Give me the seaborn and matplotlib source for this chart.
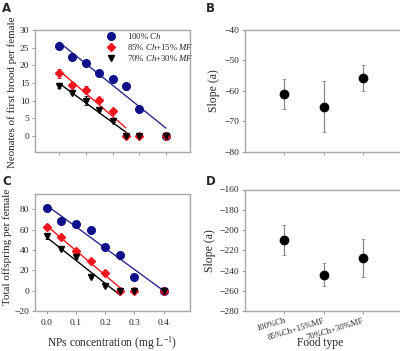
import numpy as np
import pandas as pd
import matplotlib
matplotlib.use("Agg")
import matplotlib.pyplot as plt
import seaborn as sns

# NPs concentration (mg/L)
conc = [0, 0.05, 0.1, 0.15, 0.2, 0.25, 0.3, 0.4]

# A: neonates of first brood per female
ch100_first = [25.5, 22.3, 20.6, 17.8, 16.1, 14.1, 7.7, 0]
ch100_first_err = [0.6, 0.5, 0.4, 0.4, 0.6, 1.0, 0.4, 0]
ch85_first = [17.7, 14.5, 13.1, 10.2, 7.0, 0, 0, 0]
ch85_first_err = [1.2, 0.5, 1.0, 0.5, 0.5, 0, 0, 0]
ch70_first = [14.1, 12.2, 10.0, 7.2, 4.3, 0, 0, 0]
ch70_first_err = [0.5, 0.4, 1.2, 0.3, 0.4, 0, 0, 0]

# C: total offspring per female
ch100_total = [81.7, 68.0, 65.7, 59.8, 42.8, 34.6, 13.4, 0]
ch100_total_err = [1.0, 1.0, 1.0, 1.0, 1.0, 1.0, 1.0, 0]
ch85_total = [62.4, 52.3, 38.9, 29.1, 17.6, 0, 0, 0]
ch85_total_err = [1.5, 1.0, 1.5, 1.0, 1.0, 0, 0, 0]
ch70_total = [53.3, 40.8, 33.0, 13.4, 4.2, 0, 0, 0]
ch70_total_err = [3.0, 1.0, 1.5, 1.0, 1.0, 0, 0, 0]

# points used by each regression line
fit_n = [8, 6, 6]

# B / D: slopes per food type
food = ["100%Ch", "85%Ch+15%MF", "70%Ch+30%MF"]
slope_first = [-61.0, -65.2, -55.7]
slope_first_err = [5.0, 8.3, 4.3]
slope_total = [-210.0, -244.0, -227.5]
slope_total_err = [15.0, 11.5, 19.0]

labels = ["100% $\\mathit{Ch}$", "85% $\\mathit{Ch}$+15% $\\mathit{MF}$",
          "70% $\\mathit{Ch}$+30% $\\mathit{MF}$"]
colors = ["#10108a", "#f0141e", "#000000"]
line_colors = ["#2a2a90", "#f0141e", "#000000"]
markers = ["o", "D", "v"]
msizes = [5.5, 4.5, 5]

sns.set_style("ticks")
plt.rcParams["font.family"] = ["Liberation Serif", "DejaVu Serif"]
plt.rcParams["mathtext.fontset"] = "custom"
plt.rcParams["mathtext.rm"] = "Liberation Serif"
plt.rcParams["mathtext.it"] = "Liberation Serif:italic"

fig = plt.figure(figsize=(4.0, 3.51), dpi=100)
W, H = 400.0, 351.0


def add_ax(l, t, r, b):
    return fig.add_axes([l / W, 1 - b / H, (r - l) / W, (b - t) / H])


axA = add_ax(35, 30, 190, 151.7)
axB = add_ax(245, 30, 402, 151.7)
axC = add_ax(35, 194, 190, 311)
axD = add_ax(245, 189.5, 402, 311)

frame = "#a8a8a8"
for ax in (axA, axB, axC, axD):
    for s in ax.spines.values():
        s.set_color(frame)
        s.set_linewidth(1.0)
    ax.tick_params(axis="both", direction="out", length=2, width=0.6,
                   color="#888888", labelsize=6.8, pad=2)


def series_panel(ax, ys, errs):
    for i in range(3):
        df = pd.DataFrame({"x": conc, "y": ys[i]})
        sub = df.iloc[:fit_n[i]]
        sns.regplot(data=sub, x="x", y="y", ax=ax, scatter=False, ci=None,
                    truncate=True, line_kws={"color": line_colors[i], "lw": 1.0})
    for i in range(3):
        ax.errorbar(conc, ys[i], yerr=errs[i], fmt="none", ecolor=colors[i],
                    elinewidth=0.8, capsize=1.2, capthick=0.6, zorder=3)
        ax.plot(conc, ys[i], linestyle="none", marker=markers[i],
                color=colors[i], markersize=msizes[i], label=labels[i], zorder=4)
    ax.set_xlabel("")
    ax.set_ylabel("")


series_panel(axA, [ch100_first, ch85_first, ch70_first],
             [ch100_first_err, ch85_first_err, ch70_first_err])
axA.set_xlim(-0.09, 0.49)
axA.set_ylim(-4.5, 30)
axA.set_yticks([0, 5, 10, 15, 20, 25, 30])
axA.set_xticks([0, 0.1, 0.2, 0.3, 0.4])
axA.set_xticklabels([])
axA.set_ylabel("Neonates of first brood per female", fontsize=7.9)
axA.yaxis.set_label_coords(-0.115, 0.49)
axA.legend(loc="upper left", frameon=False, fontsize=6.3, handletextpad=1.2,
           borderaxespad=0, borderpad=0, labelspacing=0.08, handlelength=1.2,
           bbox_to_anchor=(0.455, 0.99))

series_panel(axC, [ch100_total, ch85_total, ch70_total],
             [ch100_total_err, ch85_total_err, ch70_total_err])
axC.set_xlim(-0.04, 0.49)
axC.set_ylim(-20, 95)
axC.set_yticks([-20, 0, 20, 40, 60, 80])
axC.set_xticks([0, 0.1, 0.2, 0.3, 0.4])
axC.set_xticklabels(["0.0", "0.1", "0.2", "0.3", "0.4"])
axC.tick_params(axis="x", pad=4)
axC.set_ylabel("Total offspring per female", fontsize=8.0)
axC.yaxis.set_label_coords(-0.15, 0.55)
axC.set_xlabel("NPs concentration (mg L$^{-1}$)", fontsize=8.3)
axC.xaxis.set_label_coords(0.5, -0.2)


def slope_panel(ax, vals, errs):
    df = pd.DataFrame({"food": food, "slope": vals})
    ax.errorbar(range(3), vals, yerr=errs, fmt="none", ecolor="#888888",
                elinewidth=0.9, capsize=1.5, capthick=0.6, zorder=2)
    sns.scatterplot(data=df, x="food", y="slope", ax=ax, color="black",
                    s=42, edgecolor="black", zorder=3)
    ax.set_xlim(-1, 3)
    ax.set_xlabel("")
    ax.set_ylabel("Slope (a)", fontsize=8.5, labelpad=3)


slope_panel(axB, slope_first, slope_first_err)
axB.set_ylim(-80, -40)
axB.set_yticks([-80, -70, -60, -50, -40])
axB.set_xticks([0, 1, 2])
axB.set_xticklabels([])

slope_panel(axD, slope_total, slope_total_err)
axD.set_ylim(-280, -160)
axD.set_yticks(np.arange(-280, -159, 20))
axD.set_xticks([0, 1, 2])
axD.set_xticklabels(food, rotation=17, ha="right", fontsize=6.2,
                    rotation_mode="anchor")
axD.set_xlabel("Food type", fontsize=8.3)
axD.xaxis.set_label_coords(0.48, -0.215)

for txt, x, y in [("A", 2, 2), ("B", 206, 2), ("C", 2, 175), ("D", 206, 175)]:
    fig.text(x / W, 1 - y / H, txt, fontsize=8.5, fontweight="bold",
             family="DejaVu Sans", va="top", ha="left")

fig.savefig("out.png", dpi=100)
